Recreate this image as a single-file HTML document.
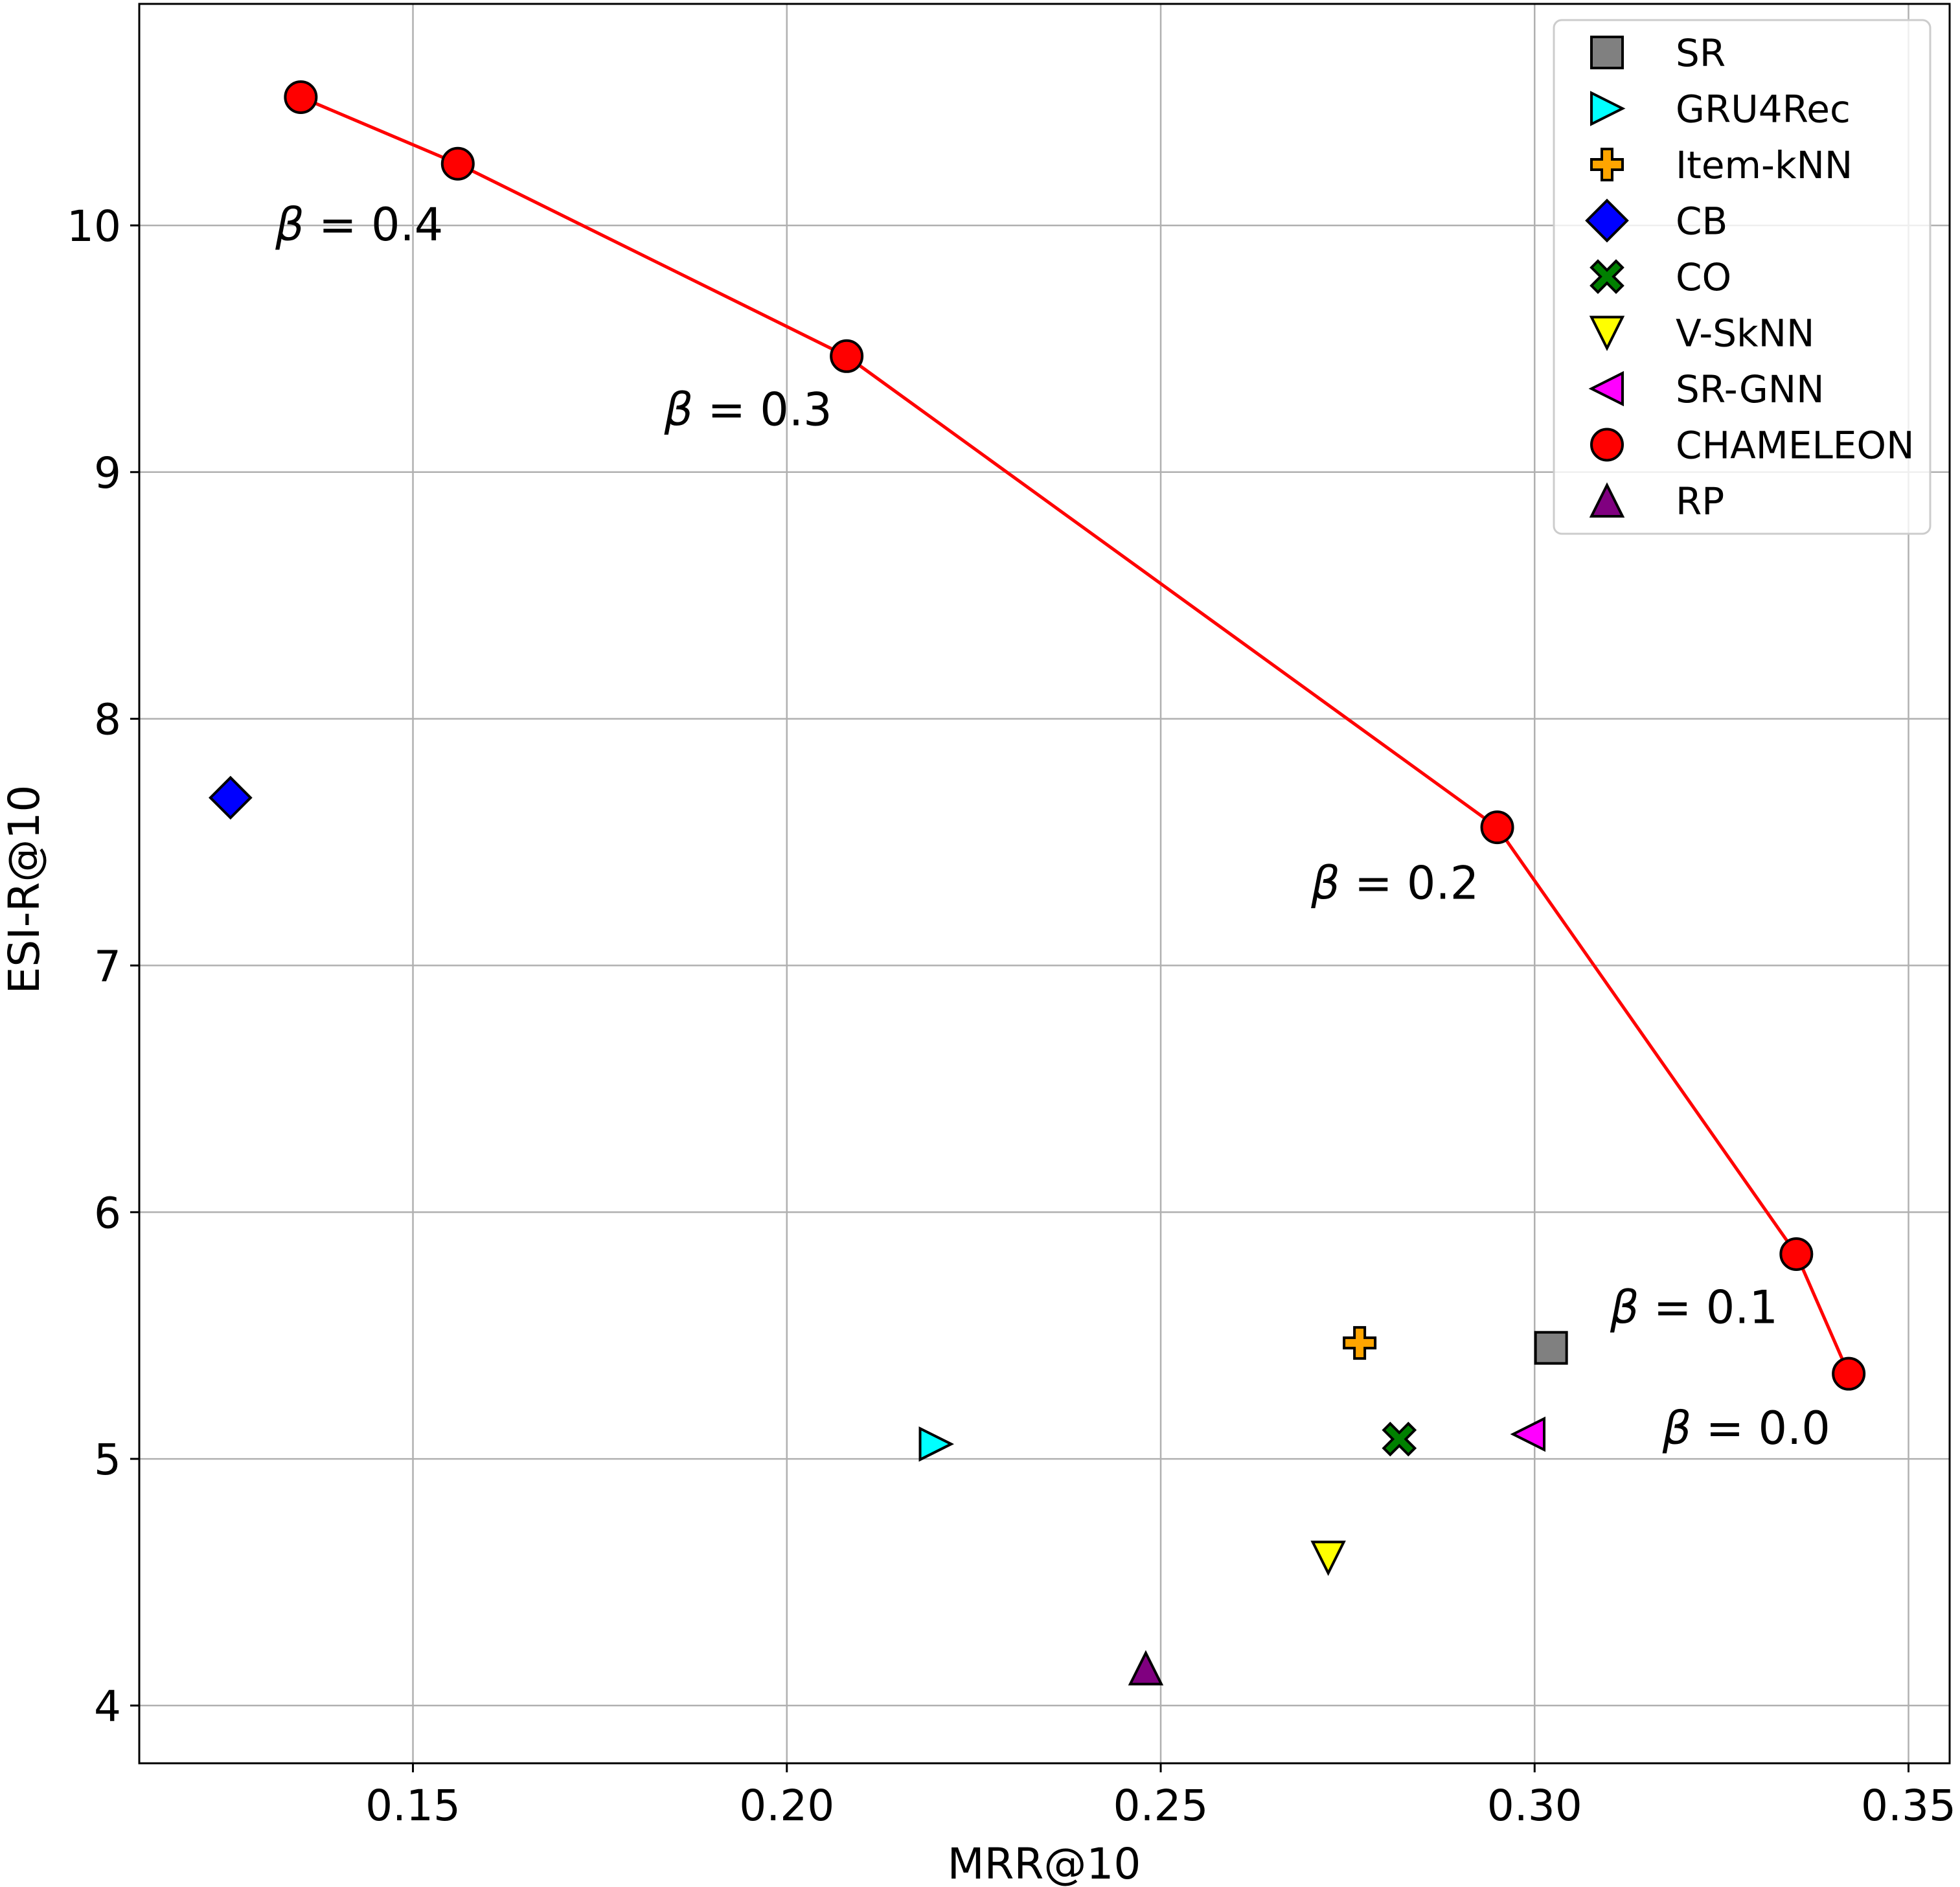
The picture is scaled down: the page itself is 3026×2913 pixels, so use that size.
<!DOCTYPE html>
<html><head><meta charset="utf-8"><style>
html,body{margin:0;padding:0;background:#fff;}
svg{display:block;font-family:"DejaVu Sans","Liberation Sans",sans-serif;}
</style></head><body>
<svg id="chart" width="3026" height="2913" viewBox="0 0 3026 2913" xmlns="http://www.w3.org/2000/svg">
<rect width="3026" height="2913" fill="#fff"/>
<g id="grid"></g>
<g id="marks"></g>
<g id="axes"></g>
<text x="1612" y="2900" font-size="66" text-anchor="middle">MRR@10</text>
<text x="0" y="0" font-size="66" text-anchor="middle" transform="translate(60,1373) rotate(-90)">ESI-R@10</text>
<g id="legend"></g>
</svg>
<script>
const xTicks=[0.15,0.20,0.25,0.30,0.35];
const xTickLabels=["0.15","0.20","0.25","0.30","0.35"];
const yTicks=[4,5,6,7,8,9,10];
const yTickLabels=["4","5","6","7","8","9","10"];
const chameleonX=[0.135,0.156,0.208,0.295,0.335,0.342];
const chameleonY=[10.52,10.25,9.47,7.56,5.83,5.345];
const betaLabels=["β = 0.4","β = 0.3","β = 0.2","β = 0.1","β = 0.0"];
const betaX=[0.1316,0.1836,0.2701,0.3101,0.3171];
const betaY=[9.94,9.19,7.27,5.55,5.06];
const baselineNames=["SR","GRU4Rec","Item-kNN","CB","CO","V-SkNN","SR-GNN","RP"];
const baselineX=[0.3022,0.2199,0.2766,0.1256,0.2819,0.2724,0.2992,0.248];
const baselineY=[5.45,5.06,5.47,7.68,5.08,4.60,5.10,4.15];
const legendNames=["SR","GRU4Rec","Item-kNN","CB","CO","V-SkNN","SR-GNN","CHAMELEON","RP"];

const L=215,R=3010,T=6,B=2722;
const XMIN=0.1134,XMAX=0.3555,YMIN=3.766,YMAX=10.898;
const sx=v=>L+(v-XMIN)/(XMAX-XMIN)*(R-L);
const sy=v=>B-(v-YMIN)/(YMAX-YMIN)*(B-T);
const NS="http://www.w3.org/2000/svg";
function mk(tag,attrs,parent){const e=document.createElementNS(NS,tag);for(const k in attrs)e.setAttribute(k,attrs[k]);parent.appendChild(e);return e;}
const grid=document.getElementById('grid'),axes=document.getElementById('axes'),marks=document.getElementById('marks'),legend=document.getElementById('legend');

xTicks.forEach((t,i)=>{const x=sx(t);
 const g=mk('line',{x1:x,x2:x,y1:T,y2:B,stroke:'#b0b0b0','stroke-width':2.5},grid);
 
 
 const tk=mk('line',{x1:x,x2:x,y1:B,y2:B+14,stroke:'#000','stroke-width':3},axes);
 
 
 const tx=mk('text',{x:x,y:B+88,'font-size':66,'text-anchor':'middle'},axes);tx.textContent=xTickLabels[i];
 
 
});
yTicks.forEach((t,i)=>{const y=sy(t);
 const g=mk('line',{x1:L,x2:R,y1:y,y2:y,stroke:'#b0b0b0','stroke-width':2.5},grid);
 
 
 const tk=mk('line',{x1:L-14,x2:L,y1:y,y2:y,stroke:'#000','stroke-width':3},axes);
 
 
 const tx=mk('text',{x:L-28,y:y+24,'font-size':66,'text-anchor':'end'},axes);tx.textContent=yTickLabels[i];
 
 
});
const frame=mk('rect',{x:L,y:T,width:R-L,height:B-T,fill:'none',stroke:'#000','stroke-width':3},axes);



const colors={"SR":"#808080","GRU4Rec":"#00ffff","Item-kNN":"#ffa500","CB":"#0000ff","CO":"#008000","V-SkNN":"#ffff00","SR-GNN":"#ff00ff","CHAMELEON":"#ff0000","RP":"#800080"};
function marker(name,x,y,parent){
 const c=colors[name],st={fill:c,stroke:'#000','stroke-width':4,'stroke-linejoin':'miter'};
 let e;const s=24;
 if(name==="SR"){e=mk('rect',Object.assign({x:x-s,y:y-s,width:2*s,height:2*s},st),parent);}
 else if(name==="GRU4Rec"){e=mk('polygon',Object.assign({points:`${x+s},${y} ${x-s},${y-s} ${x-s},${y+s}`},st),parent);}
 else if(name==="SR-GNN"){e=mk('polygon',Object.assign({points:`${x-s},${y} ${x+s},${y-s} ${x+s},${y+s}`},st),parent);}
 else if(name==="V-SkNN"){e=mk('polygon',Object.assign({points:`${x},${y+s} ${x-s},${y-s} ${x+s},${y-s}`},st),parent);}
 else if(name==="RP"){e=mk('polygon',Object.assign({points:`${x},${y-s} ${x-s},${y+s} ${x+s},${y+s}`},st),parent);}
 else if(name==="CB"){const d=31;e=mk('polygon',Object.assign({points:`${x},${y-d} ${x+d},${y} ${x},${y+d} ${x-d},${y}`},st),parent);}
 else if(name==="CHAMELEON"){e=mk('circle',Object.assign({cx:x,cy:y,r:s},st),parent);}
 else if(name==="Item-kNN"){const a=8,b=s;e=mk('polygon',Object.assign({points:`${x-a},${y-b} ${x+a},${y-b} ${x+a},${y-a} ${x+b},${y-a} ${x+b},${y+a} ${x+a},${y+a} ${x+a},${y+b} ${x-a},${y+b} ${x-a},${y+a} ${x-b},${y+a} ${x-b},${y-a} ${x-a},${y-a}`},st),parent);}
 else if(name==="CO"){const w=10,b=s;let p=[];
  const pts=[[0,-w],[b-w,-b],[b,-b+w],[w,0],[b,b-w],[b-w,b],[0,w],[-b+w,b],[-b,b-w],[-w,0],[-b,-b+w],[-b+w,-b]];
  pts.forEach(q=>p.push((x+q[0])+','+(y+q[1])));e=mk('polygon',Object.assign({points:p.join(' ')},st),parent);}
 return e;
}

const line=mk('polyline',{points:chameleonX.map((v,i)=>sx(v)+','+sy(chameleonY[i])).join(' '),fill:'none',stroke:'#ff0000','stroke-width':5},marks);


chameleonX.forEach((v,i)=>{const e=marker("CHAMELEON",sx(v),sy(chameleonY[i]),marks);
 
 });
baselineNames.forEach((n,i)=>{const e=marker(n,sx(baselineX[i]),sy(baselineY[i]),marks);
 
 });
betaLabels.forEach((t,i)=>{const e=mk('text',{x:sx(betaX[i]),y:sy(betaY[i]),'font-size':70},marks);
 e.innerHTML='<tspan font-style="italic">β</tspan> = '+t.split('= ')[1];
 
 });

const box=mk('rect',{x:2399,y:31,width:581,height:793,rx:12,fill:'#fff','fill-opacity':0.8,stroke:'#cccccc','stroke-width':3},legend);


legendNames.forEach((n,i)=>{const y=81+i*86.5;
 const m=marker(n,2481,y,legend);
 
 
 const t=mk('text',{x:2587,y:y+21,'font-size':58},legend);t.textContent=n;
 
 
});
</script>
</body></html>
